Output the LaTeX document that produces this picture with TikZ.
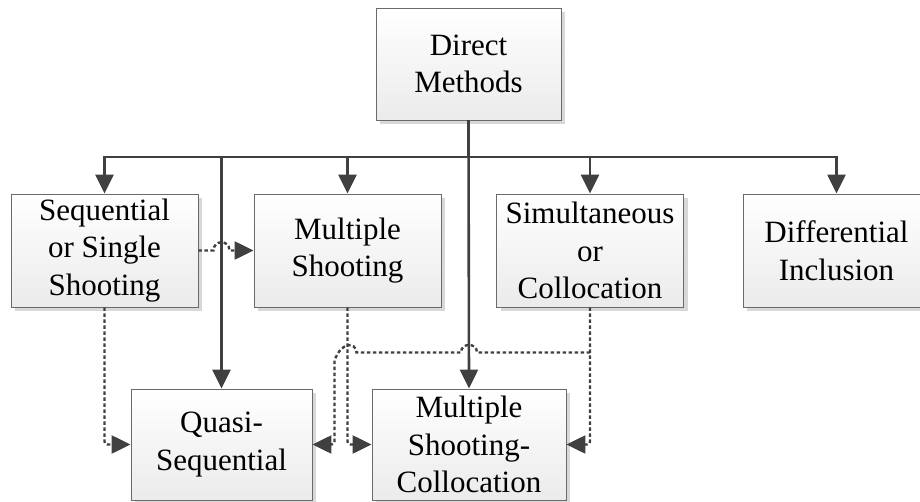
\documentclass[tikz,border=0pt]{standalone}
\usepackage{fontspec}
\setmainfont{Liberation Serif}
\usetikzlibrary{arrows.meta,shadows,calc}

\definecolor{linegray}{HTML}{404040}
\definecolor{boxedge}{HTML}{6A6A6A}
\definecolor{boxlow}{HTML}{EBEBEB}
\definecolor{shadowgray}{HTML}{D8D8D8}

\tikzset{
  method/.style={draw=boxedge, line width=0.9pt, top color=white, bottom color=boxlow,
    minimum width=187pt, minimum height=113pt, align=center, inner sep=0pt,
    font=\fontsize{31}{37.5}\selectfont,
    drop shadow={shadow xshift=4pt, shadow yshift=-4pt, fill=shadowgray, opacity=1}},
  headtip/.style={-{Triangle[length=19pt 0 0,width=18pt 0 0]}},
  solidarrow/.style={draw=linegray, line width=2.6pt, headtip},
  dasharrow/.style={draw=linegray, line width=2.4pt, dash pattern=on 3.5pt off 2.5pt, headtip},
}

\begin{document}
\begin{tikzpicture}[x=1pt, y=-1pt]
\useasboundingbox (0,0) rectangle (920,502);

% boxes
\node[method, minimum width=185pt, minimum height=112pt] (dm) at (468.5,64) {Direct\\Methods};
\node[method] (seq) at (104.5,250.5) {Sequential\\or Single\\Shooting};
\node[method] (ms)  at (347.5,250.5) {Multiple\\Shooting};
\node[method] (sim) at (590,250.5)   {Simultaneous\\or\\Collocation};
\node[method] (dif) at (836.5,250.5) {Differential\\Inclusion};
\node[method, minimum width=181pt, minimum height=111pt] (qs)  at (221.5,444.5) {Quasi-\\Sequential};
\node[method, minimum width=194pt, minimum height=111pt] (msc) at (469,444.5) {Multiple\\Shooting-\\Collocation};

% distribution bus
\coordinate (busy) at (0,157);
\draw[solidarrow] (dm.south) -- (dm.south |- busy) -| (seq.north);
\draw[solidarrow] (dm.south) -- (dm.south |- busy) -| (ms.north);
\draw[solidarrow] (dm.south) -- (dm.south |- busy) -| (sim.north);
\draw[solidarrow] (dm.south) -- (dm.south |- busy) -| (dif.north);
\draw[solidarrow] (dm.south) -- (dm.south |- busy) -| (qs.north);
\draw[solidarrow] (dm.south) -- (msc.north);

% sequential -> multiple shooting, hopping over the vertical line
\coordinate (h1) at (qs.north |- seq.east);
\draw[dasharrow] (seq.east) -- ($(h1)+(-8,0)$)
  .. controls ($(h1)+(-8,-11)$) and ($(h1)+(8,-11)$) .. ($(h1)+(8,0)$) -- (ms.west);

% downward dashed links
\draw[dasharrow, rounded corners=3pt] (seq.south) |- (qs.west);
\draw[dasharrow, rounded corners=3pt] (ms.south) |- (msc.west);
\draw[dasharrow, rounded corners=3pt] (sim.south) |- (msc.east);

% collocation -> quasi-sequential, hopping over two lines
\coordinate (j1) at ($(sim.south)+(0,45)$);
\coordinate (h2) at (msc.north |- j1);
\coordinate (h3) at (ms.south |- j1);
\coordinate (c1) at ($(h3)+(-13,0)$);
\draw[dasharrow] (j1) -- ($(h2)+(8,0)$)
  .. controls ($(h2)+(8,-10)$) and ($(h2)+(-8,-10)$) .. ($(h2)+(-8,0)$)
  -- ($(h3)+(9,0)$)
  .. controls ($(h3)+(8,-11)$) and ($(h3)+(-6,-11)$) .. ($(c1)+(0,8)$)
  [rounded corners=3pt] -- (c1 |- qs.east) -- (qs.east);
\end{tikzpicture}
\end{document}
